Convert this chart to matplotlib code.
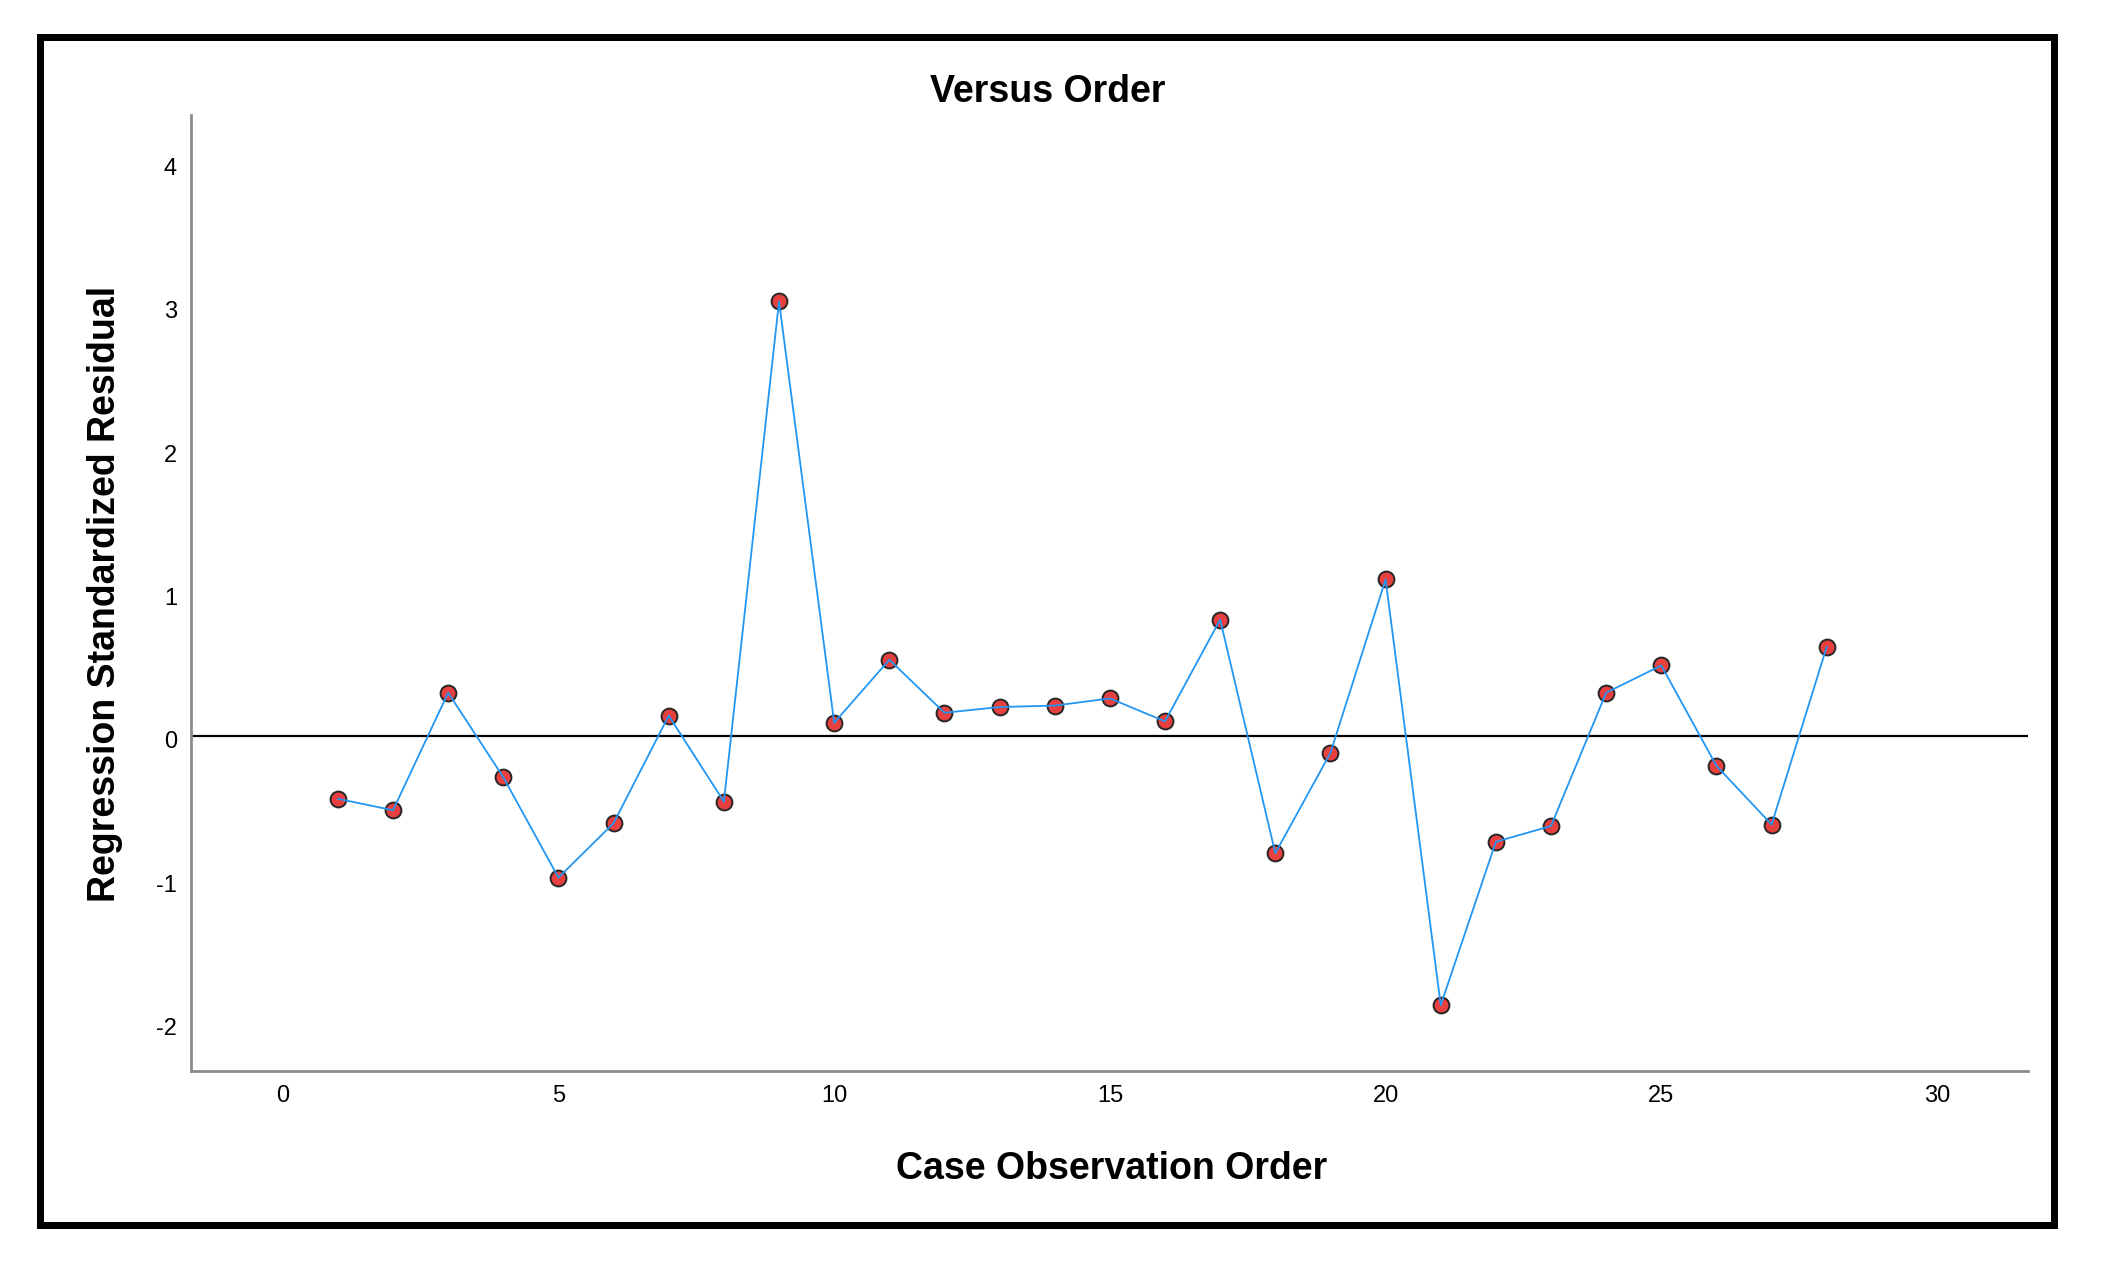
import matplotlib
matplotlib.use("Agg")
import matplotlib.pyplot as plt
from matplotlib.patches import Rectangle
from matplotlib.transforms import ScaledTranslation

# ---- data ----
case_order = list(range(1, 29))
std_residual = [-0.44, -0.52, 0.30, -0.29, -0.99, -0.61, 0.14, -0.46, 3.03, 0.09,
                0.53, 0.16, 0.20, 0.21, 0.26, 0.10, 0.81, -0.82, -0.12, 1.09,
                -1.88, -0.74, -0.63, 0.30, 0.49, -0.21, -0.62, 0.62]
x_ticks = [0, 5, 10, 15, 20, 25, 30]
y_ticks = [-2, -1, 0, 1, 2, 3, 4]
title_text = "Versus Order"
x_label = "Case Observation Order"
y_label = "Regression Standardized Residual"

plt.rcParams['font.family'] = ['Liberation Sans', 'DejaVu Sans']
plt.rcParams['axes.unicode_minus'] = False

W, H = 2104, 1279
fig = plt.figure(figsize=(W / 100, H / 100), dpi=100)
fig.patch.set_facecolor('white')

# axes placement (pixels)
ax_l, ax_r, ax_t, ax_b = 191, 2028, 115, 1070.7
ax = fig.add_axes([ax_l / W, 1 - ax_b / H, (ax_r - ax_l) / W, (ax_b - ax_t) / H])

ax.set_xlim(-1.664, 31.65)
ax.set_ylim(-2.337, 4.33)

ax.axhline(0, color='black', lw=1.6, zorder=1)
ax.plot(case_order, std_residual, linestyle='none', marker='o', markersize=11.4,
        markerfacecolor='#E8403F', markeredgecolor='#262626', markeredgewidth=1.4, zorder=2)
ax.plot(case_order, std_residual, color='#2196F3', lw=1.3, zorder=3)

ax.set_xticks(x_ticks)
ax.set_yticks(y_ticks)
ax.tick_params(axis='both', length=0, labelsize=17, pad=10, labelcolor='black')

# reference tick labels sit a few pixels below their tick positions
off = ScaledTranslation(0, -4 / 100, fig.dpi_scale_trans)
for lbl in ax.get_yticklabels():
    lbl.set_transform(lbl.get_transform() + off)

for s in ['top', 'right']:
    ax.spines[s].set_visible(False)
for s in ['left', 'bottom']:
    ax.spines[s].set_color('#8c8c8c')
    ax.spines[s].set_linewidth(2.0)

ax_w = ax_r - ax_l
ax_h = ax_b - ax_t

ax.set_title(title_text, fontsize=27, fontweight='bold',
             x=(1048 - ax_l) / ax_w, y=(ax_b - 110) / ax_h, va='baseline', ha='center')

ax.set_xlabel(x_label, fontsize=27, fontweight='bold')
ax.xaxis.label.set_va('baseline')
ax.xaxis.set_label_coords((1112 - ax_l) / ax_w, (ax_b - 1179) / ax_h)

ax.set_ylabel(y_label, fontsize=27, fontweight='bold')
ax.yaxis.label.set_va('baseline')
ax.yaxis.set_label_coords((115 - ax_l) / ax_w, (ax_b - 594) / ax_h)

# outer frame
lw_px = 7
x0, y0, x1, y1 = 36 + lw_px / 2, 33 + lw_px / 2, 2057 - lw_px / 2, 1228 - lw_px / 2
fig.patches.append(Rectangle((x0 / W, 1 - y1 / H), (x1 - x0) / W, (y1 - y0) / H,
                             transform=fig.transFigure, fill=False, edgecolor='black',
                             linewidth=lw_px * 0.72, joinstyle='miter'))

fig.savefig('out.png', dpi=100, facecolor='white')
